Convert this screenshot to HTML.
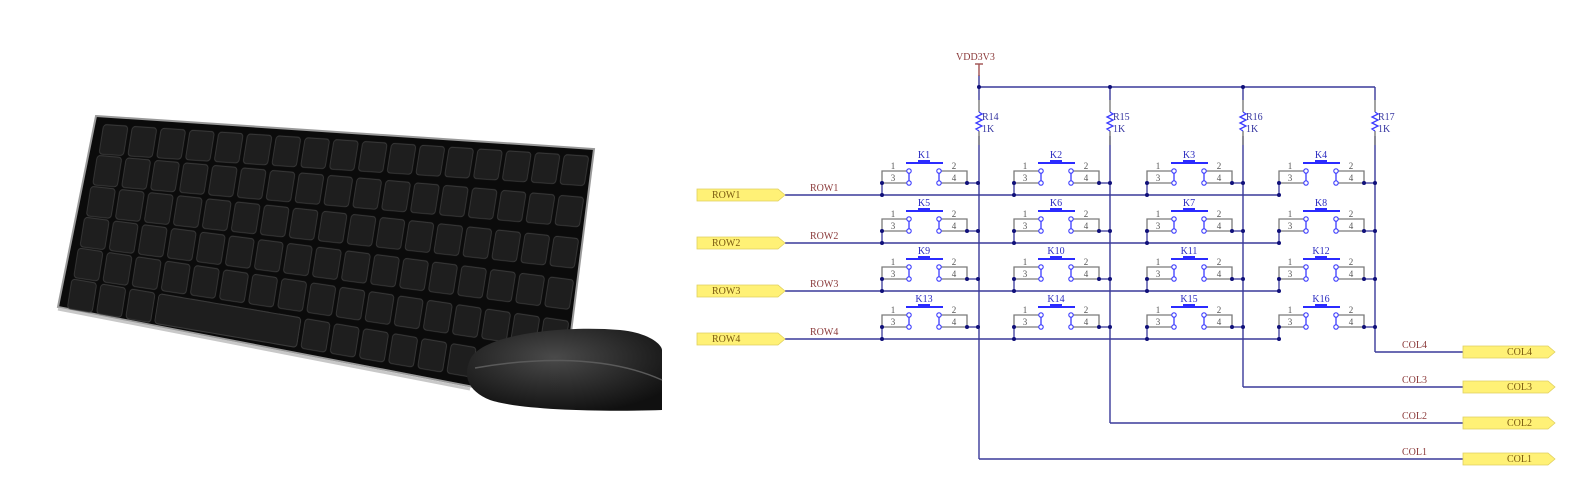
<!DOCTYPE html>
<html><head><meta charset="utf-8"><style>
html,body{margin:0;padding:0;background:#fff;width:1579px;height:494px;overflow:hidden}
svg{display:block}
text{font-family:"Liberation Serif",serif}
</style></head><body>
<svg width="1579" height="494" viewBox="0 0 1579 494" xmlns="http://www.w3.org/2000/svg">
<defs>
<pattern id="keys" x="0" y="0" width="28.8" height="30.5" patternUnits="userSpaceOnUse">
<rect x="2" y="2" width="24.5" height="25" rx="3" fill="#1e1e1e" stroke="#3a3a3a" stroke-width="0.8"/>
</pattern>
<radialGradient id="mg" cx="0.45" cy="0.35" r="0.7"><stop offset="0" stop-color="#4a4a4a"/><stop offset="1" stop-color="#101010"/></radialGradient>
<g id="sw">
<polyline points="-71,-24 -96,-24 -96,-12 -71,-12" fill="none" stroke="#7a7a7a" stroke-width="1.3"/>
<polyline points="-37,-24 -11,-24 -11,-12 -37,-12" fill="none" stroke="#7a7a7a" stroke-width="1.3"/>
<line x1="-69" y1="-22" x2="-69" y2="-14" stroke="#3b3bff" stroke-width="1.3"/>
<line x1="-39" y1="-22" x2="-39" y2="-14" stroke="#3b3bff" stroke-width="1.3"/>
<circle cx="-69" cy="-24" r="2.2" fill="#fff" stroke="#3b3bff" stroke-width="1.1"/>
<circle cx="-69" cy="-12" r="2.2" fill="#fff" stroke="#3b3bff" stroke-width="1.1"/>
<circle cx="-39" cy="-24" r="2.2" fill="#fff" stroke="#3b3bff" stroke-width="1.1"/>
<circle cx="-39" cy="-12" r="2.2" fill="#fff" stroke="#3b3bff" stroke-width="1.1"/>
<line x1="-72" y1="-32" x2="-35" y2="-32" stroke="#2b2bff" stroke-width="2"/>
<rect x="-60" y="-35" width="12" height="3.5" fill="#2b2bff"/>
<line x1="-96" y1="-12" x2="-96" y2="0" stroke="#3a3a9a" stroke-width="1.3"/>
<line x1="-11" y1="-12" x2="0" y2="-12" stroke="#3a3a9a" stroke-width="1.3"/>
<circle cx="-96" cy="-12" r="2" fill="#10107a"/>
<circle cx="-96" cy="0" r="2" fill="#10107a"/>
<circle cx="-11" cy="-12" r="2" fill="#10107a"/>
<circle cx="0" cy="-12" r="2" fill="#10107a"/>
</g>
</defs>

<!-- Keyboard -->
<polygon points="96,116 594,149 562,404 58,307" fill="#0b0b0b" stroke="#9a9a9a" stroke-width="2"/>
<line x1="58" y1="309" x2="470" y2="389" stroke="#c8c8c8" stroke-width="3"/>
<g transform="matrix(1,0.0653,-0.187,1.18,102,122)"><rect x="0" y="0" width="490" height="30.5" fill="url(#keys)"/></g>
<g transform="matrix(1.0027,0.0867,-0.187,1.18,95.7,152.8)"><rect x="0" y="0" width="490" height="30.5" fill="url(#keys)"/></g>
<g transform="matrix(1.0054,0.108,-0.187,1.18,89.3,183.7)"><rect x="0" y="0" width="490" height="30.5" fill="url(#keys)"/></g>
<g transform="matrix(1.008,0.1296,-0.187,1.18,83,214.5)"><rect x="0" y="0" width="490" height="30.5" fill="url(#keys)"/></g>
<g transform="matrix(1.011,0.151,-0.187,1.18,76.7,245.3)"><rect x="0" y="0" width="490" height="30.5" fill="url(#keys)"/></g>
<g transform="matrix(1.0136,0.1724,-0.187,1.18,70.3,276.2)"><rect x="0" y="0" width="490" height="30.5" fill="url(#keys)"/><rect x="88" y="2" width="140" height="25" rx="3" fill="#1e1e1e" stroke="#3a3a3a" stroke-width="0.8"/></g>
<!-- Mouse -->
<path d="M470,360 C480,335 560,325 620,330 C650,333 662,345 662,350 L662,410 C600,412 520,410 490,400 C470,392 462,378 470,360 Z" fill="url(#mg)"/>
<path d="M475,368 C520,360 600,352 662,380" stroke="#5a5a5a" stroke-width="1.5" fill="none"/>

<!-- Schematic wires -->
<g stroke="#3a3a9a" stroke-width="1.4" fill="none">
<line x1="979" y1="75" x2="979" y2="459"/>
<line x1="979" y1="87" x2="1375" y2="87"/>
<line x1="1110" y1="87" x2="1110" y2="423"/>
<line x1="1243" y1="87" x2="1243" y2="387"/>
<line x1="1375" y1="87" x2="1375" y2="352"/>
<line x1="1110" y1="423" x2="1473" y2="423"/>
<line x1="1243" y1="387" x2="1473" y2="387"/>
<line x1="1375" y1="352" x2="1473" y2="352"/>
<line x1="979" y1="459" x2="1473" y2="459"/>
<line x1="785" y1="195" x2="1280" y2="195"/>
<line x1="785" y1="243" x2="1280" y2="243"/>
<line x1="785" y1="291" x2="1280" y2="291"/>
<line x1="785" y1="339" x2="1280" y2="339"/>
</g>
<line x1="979" y1="64" x2="979" y2="76" stroke="#a05050" stroke-width="1.4"/>
<line x1="975" y1="64" x2="983" y2="64" stroke="#a05050" stroke-width="1.4"/>
<g fill="#10107a"><circle cx="979" cy="87" r="2"/><circle cx="1110" cy="87" r="2"/><circle cx="1243" cy="87" r="2"/></g>
<g fill="#fff" stroke="none">
<rect x="974" y="100" width="10" height="36"/><rect x="1105" y="100" width="10" height="36"/><rect x="1238" y="100" width="10" height="36"/><rect x="1370" y="100" width="10" height="36"/>
</g>
<g stroke="#7a7a7a" stroke-width="1.4">
<line x1="979" y1="100" x2="979" y2="112"/><line x1="979" y1="131" x2="979" y2="145"/>
<line x1="1110" y1="100" x2="1110" y2="112"/><line x1="1110" y1="131" x2="1110" y2="145"/>
<line x1="1243" y1="100" x2="1243" y2="112"/><line x1="1243" y1="131" x2="1243" y2="145"/>
<line x1="1375" y1="100" x2="1375" y2="112"/><line x1="1375" y1="131" x2="1375" y2="145"/>
</g>
<g stroke="#3b3bff" stroke-width="1.3" fill="none">
<polyline points="979,112 982,114 976,117 982,120 976,123 982,126 976,129 979,131"/>
<polyline points="1110,112 1113,114 1107,117 1113,120 1107,123 1113,126 1107,129 1110,131"/>
<polyline points="1243,112 1246,114 1240,117 1246,120 1240,123 1246,126 1240,129 1243,131"/>
<polyline points="1375,112 1378,114 1372,117 1378,120 1372,123 1378,126 1372,129 1375,131"/>
</g>
<g font-size="10" fill="#3535a0">
<text x="982" y="120">R14</text><text x="982" y="132">1K</text>
<text x="1113" y="120">R15</text><text x="1113" y="132">1K</text>
<text x="1246" y="120">R16</text><text x="1246" y="132">1K</text>
<text x="1378" y="120">R17</text><text x="1378" y="132">1K</text>
</g>
<text x="956" y="60" font-size="10" fill="#8b3a3a">VDD3V3</text>

<use href="#sw" x="978" y="195"/><use href="#sw" x="1110" y="195"/><use href="#sw" x="1243" y="195"/><use href="#sw" x="1375" y="195"/>
<use href="#sw" x="978" y="243"/><use href="#sw" x="1110" y="243"/><use href="#sw" x="1243" y="243"/><use href="#sw" x="1375" y="243"/>
<use href="#sw" x="978" y="291"/><use href="#sw" x="1110" y="291"/><use href="#sw" x="1243" y="291"/><use href="#sw" x="1375" y="291"/>
<use href="#sw" x="978" y="339"/><use href="#sw" x="1110" y="339"/><use href="#sw" x="1243" y="339"/><use href="#sw" x="1375" y="339"/>

<g font-size="10" fill="#2b2bc0" text-anchor="middle">
<text x="924" y="158">K1</text><text x="1056" y="158">K2</text><text x="1189" y="158">K3</text><text x="1321" y="158">K4</text>
<text x="924" y="206">K5</text><text x="1056" y="206">K6</text><text x="1189" y="206">K7</text><text x="1321" y="206">K8</text>
<text x="924" y="254">K9</text><text x="1056" y="254">K10</text><text x="1189" y="254">K11</text><text x="1321" y="254">K12</text>
<text x="924" y="302">K13</text><text x="1056" y="302">K14</text><text x="1189" y="302">K15</text><text x="1321" y="302">K16</text>
</g>
<g font-size="9" fill="#555" text-anchor="middle">
<text x="893" y="169">1</text><text x="954" y="169">2</text><text x="893" y="181">3</text><text x="954" y="181">4</text>
<text x="1025" y="169">1</text><text x="1086" y="169">2</text><text x="1025" y="181">3</text><text x="1086" y="181">4</text>
<text x="1158" y="169">1</text><text x="1219" y="169">2</text><text x="1158" y="181">3</text><text x="1219" y="181">4</text>
<text x="1290" y="169">1</text><text x="1351" y="169">2</text><text x="1290" y="181">3</text><text x="1351" y="181">4</text>
<text x="893" y="217">1</text><text x="954" y="217">2</text><text x="893" y="229">3</text><text x="954" y="229">4</text>
<text x="1025" y="217">1</text><text x="1086" y="217">2</text><text x="1025" y="229">3</text><text x="1086" y="229">4</text>
<text x="1158" y="217">1</text><text x="1219" y="217">2</text><text x="1158" y="229">3</text><text x="1219" y="229">4</text>
<text x="1290" y="217">1</text><text x="1351" y="217">2</text><text x="1290" y="229">3</text><text x="1351" y="229">4</text>
<text x="893" y="265">1</text><text x="954" y="265">2</text><text x="893" y="277">3</text><text x="954" y="277">4</text>
<text x="1025" y="265">1</text><text x="1086" y="265">2</text><text x="1025" y="277">3</text><text x="1086" y="277">4</text>
<text x="1158" y="265">1</text><text x="1219" y="265">2</text><text x="1158" y="277">3</text><text x="1219" y="277">4</text>
<text x="1290" y="265">1</text><text x="1351" y="265">2</text><text x="1290" y="277">3</text><text x="1351" y="277">4</text>
<text x="893" y="313">1</text><text x="954" y="313">2</text><text x="893" y="325">3</text><text x="954" y="325">4</text>
<text x="1025" y="313">1</text><text x="1086" y="313">2</text><text x="1025" y="325">3</text><text x="1086" y="325">4</text>
<text x="1158" y="313">1</text><text x="1219" y="313">2</text><text x="1158" y="325">3</text><text x="1219" y="325">4</text>
<text x="1290" y="313">1</text><text x="1351" y="313">2</text><text x="1290" y="325">3</text><text x="1351" y="325">4</text>
</g>

<g font-size="10" fill="#8b3a3a">
<text x="810" y="191">ROW1</text><text x="810" y="239">ROW2</text><text x="810" y="287">ROW3</text><text x="810" y="335">ROW4</text>
<text x="1402" y="348">COL4</text><text x="1402" y="383">COL3</text><text x="1402" y="419">COL2</text><text x="1402" y="455">COL1</text>
</g>
<g fill="#fff176" stroke="#e0d060" stroke-width="0.8">
<polygon points="697,189 778,189 785,195 778,201 697,201"/>
<polygon points="697,237 778,237 785,243 778,249 697,249"/>
<polygon points="697,285 778,285 785,291 778,297 697,297"/>
<polygon points="697,333 778,333 785,339 778,345 697,345"/>
<polygon points="1463,346 1548,346 1555,352 1548,358 1463,358"/>
<polygon points="1463,381 1548,381 1555,387 1548,393 1463,393"/>
<polygon points="1463,417 1548,417 1555,423 1548,429 1463,429"/>
<polygon points="1463,453 1548,453 1555,459 1548,465 1463,465"/>
</g>
<g font-size="10" fill="#7a5a10">
<text x="712" y="198">ROW1</text><text x="712" y="246">ROW2</text><text x="712" y="294">ROW3</text><text x="712" y="342">ROW4</text>
<text x="1507" y="355">COL4</text><text x="1507" y="390">COL3</text><text x="1507" y="426">COL2</text><text x="1507" y="462">COL1</text>
</g>
</svg>
</body></html>
